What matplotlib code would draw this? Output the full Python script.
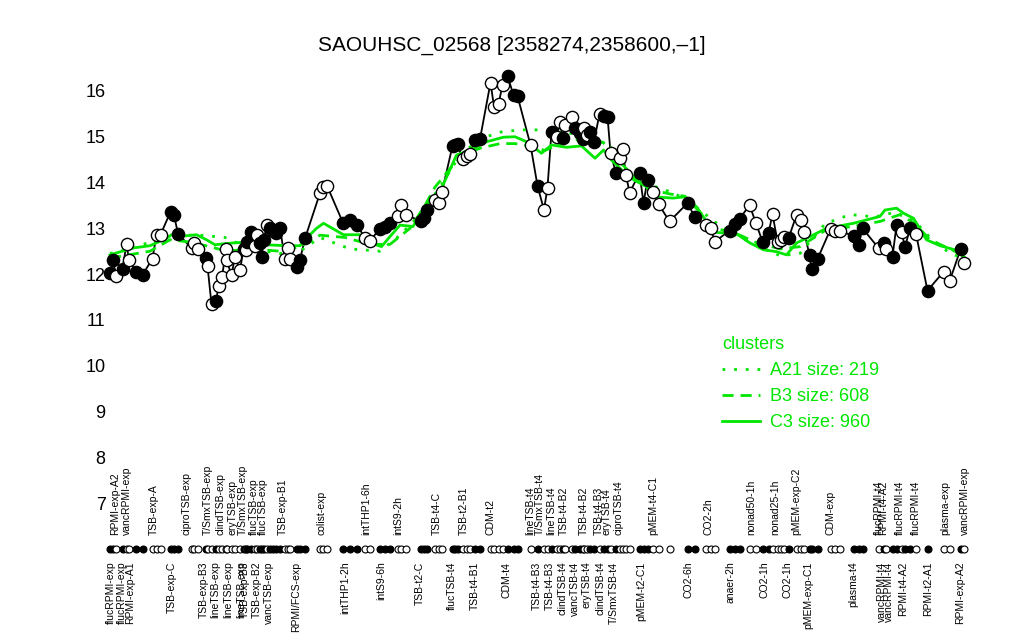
"""SAOUHSC_02568 expression profile with cluster means"""
import matplotlib
matplotlib.use('Agg')
from matplotlib import pyplot as plt
from matplotlib.lines import Line2D

plt.rcParams['font.family'] = ['Liberation Sans', 'DejaVu Sans']

TITLE = 'SAOUHSC_02568 [2358274,2358600,\u20131]'
GREEN = '#00e600'

# sample positions (x slot) and log2 expression, filled = 1 for black dots
pos = [2.0, 2.6, 3.2, 4.5, 5.3, 5.8, 7.2, 8.5,
       10.5, 11.3, 12.1,
       14.1, 14.8, 15.6,
       18.3, 18.8, 19.5,
       21.2, 21.5, 22.3, 23.2, 23.7, 24.4, 25.2, 25.3, 26.3, 27.0, 28.0,
       28.7, 29.1, 29.3, 30.1, 31.0, 31.3, 32.0, 32.3, 32.8, 33.3, 34.0,
       34.6, 35.2, 36.0,
       37.0, 37.5, 37.9,
       39.3, 40.0, 41.0,
       44.0, 44.6, 45.4,
       48.6, 50.0, 51.4,
       53.0, 54.0,
       56.0, 57.0, 58.0,
       59.6, 60.2, 61.2,
       64.2, 64.8, 65.4,
       67.0, 67.8, 68.4,
       70.5, 71.0, 71.5, 72.5, 73.3, 73.9, 75.0, 76.0,
       78.1, 78.8, 79.7, 80.5, 81.5, 82.7, 83.5,
       86.1, 87.5, 88.8, 89.5, 90.3, 91.3, 92.0, 92.5, 93.0, 94.3, 95.0,
       96.0, 96.5, 96.7, 97.3, 98.0, 98.8, 99.9, 100.7, 101.5, 102.1, 103.2,
       104.0, 104.5, 105.2, 105.9,
       107.9, 108.7, 109.5, 110.5, 111.7,
       113.9,
       117.5, 119.0,
       121.2, 122.1, 123.0,
       125.9, 127.0, 127.9,
       129.9, 131.2, 132.5, 133.7, 134.5, 135.5, 136.1, 136.7, 137.7,
       139.3, 140.1, 140.8, 141.9, 142.3, 143.5,
       146.1, 147.0, 147.9,
       150.7, 151.7, 152.5,
       155.7, 156.8, 157.2, 158.5, 159.3, 160.3, 161.0, 162.0, 163.2,
       165.5,
       168.7, 169.9,
       172.1, 172.8]
expr = [12.03, 12.31, 11.96, 12.11, 12.66, 12.31, 12.05, 11.98,
        12.34, 12.86, 12.86,
        13.36, 13.29, 12.88,
        12.57, 12.69, 12.54,
        12.35, 12.18, 11.34, 11.41, 11.73, 11.93, 12.54, 12.31, 11.98, 12.38,
        12.09, 12.54, 12.52, 12.71, 12.91, 12.62, 12.86, 12.69, 12.37, 12.75,
        13.07, 13.00, 12.95, 12.90, 13.00,
        12.32, 12.57, 12.32,
        12.15, 12.31, 12.78,
        13.77, 13.90, 13.93,
        13.12, 13.18, 13.07,
        12.79, 12.73,
        12.99, 13.02, 13.12,
        13.26, 13.51, 13.30,
        13.15, 13.22, 13.39,
        13.62, 13.55, 13.80,
        14.80, 14.83, 14.84, 14.51, 14.57, 14.62, 14.93, 14.95,
        16.18, 15.66, 15.71, 16.13, 16.33, 15.91, 15.89,
        14.82, 13.93, 13.40, 13.89, 15.11, 14.99, 15.33, 14.97, 15.26, 15.43,
        15.19, 15.08, 14.95, 15.19, 15.04, 15.11, 14.89, 15.50, 15.45, 15.44,
        14.65, 14.20, 14.53, 14.73, 14.17, 13.78,
        14.20, 13.56, 14.06, 13.80, 13.53,
        13.15,
        13.55, 13.24,
        13.07, 13.00, 12.71,
        12.95, 13.10, 13.20,
        13.51, 13.11, 12.71, 12.89, 13.31, 12.71, 12.75, 12.81, 12.78,
        13.29, 13.18, 12.93, 12.42, 12.11, 12.33,
        12.98, 12.95, 12.95,
        12.83, 12.64, 13.00,
        12.57, 12.69, 12.54, 12.38, 13.07, 12.93, 12.59, 13.00, 12.88,
        11.64,
        12.05, 11.84,
        12.54, 12.25]
filled = [1, 1, 0, 1, 0, 0, 1, 1,
          0, 0, 0,
          1, 1, 1,
          0, 0, 0,
          1, 0, 0, 1, 0, 0, 0, 0, 0, 0, 0, 1, 0, 1, 1, 0, 0, 1, 1, 1, 0, 1,
          1, 1, 1,
          0, 0, 0,
          1, 1, 1,
          0, 0, 0,
          1, 1, 1,
          0, 0,
          1, 1, 1,
          0, 0, 0,
          1, 1, 1,
          0, 0, 0,
          1, 1, 1, 0, 0, 0, 1, 1,
          0, 0, 0, 0, 1, 1, 1,
          0, 1, 0, 0, 1, 0, 0, 1, 0, 0, 1, 1, 1, 0, 0, 1, 1, 0, 1, 1, 0, 1,
          0, 0, 0, 0,
          1, 1, 1, 0, 0,
          0,
          1, 1,
          0, 0, 0,
          1, 1, 1,
          0, 0, 1, 1, 0, 0, 0, 0, 1,
          0, 0, 0, 1, 1, 1,
          0, 0, 0,
          1, 1, 1,
          0, 1, 0, 1, 1, 0, 1, 1, 0,
          1,
          0, 0,
          1, 0]

# cluster mean profiles
a21_pos = [2.0, 6.0, 10.0, 14.0, 20.0, 25.0, 30.0, 36.0, 40.0, 44.0, 50.0,
           56.0, 60.0, 64.0, 68.0, 72.0, 76.0, 80.0, 84.0, 88.0, 92.0, 96.0,
           100.0, 103.0, 106.0, 110.0, 114.0, 117.0, 120.0, 124.0, 128.0,
           132.0, 136.0, 140.0, 145.0, 150.0, 155.0, 159.0, 163.0, 166.0,
           170.0, 172.8]
a21_val = [12.45, 12.55, 12.70, 12.85, 12.85, 12.80, 12.55, 12.45, 12.50,
           12.80, 12.55, 12.50, 12.85, 13.30, 13.90, 14.60, 14.95, 15.10,
           15.15, 15.15, 15.10, 15.05, 14.95, 14.60, 14.20, 13.95, 13.80,
           13.65, 13.40, 13.05, 12.80, 12.60, 12.40, 12.45, 13.10, 13.30,
           13.25, 13.35, 13.15, 12.80, 12.45, 12.35]
b3_pos = [2.0, 10.0, 14.0, 18.0, 22.0, 25.3, 30.0, 36.0, 40.0, 44.0, 49.0,
          54.0, 58.0, 62.0, 65.0, 67.0, 70.0, 72.5, 76.0, 80.0, 83.0, 86.0,
          89.0, 92.0, 96.0, 100.0, 102.0, 104.0, 107.0, 110.0, 114.0, 117.0,
          120.0, 123.0, 127.0, 131.0, 136.0, 140.0, 145.0, 151.0, 156.0,
          160.0, 163.0, 166.0, 170.0, 172.8]
b3_val = [12.35, 12.50, 12.75, 12.70, 12.60, 12.50, 12.55, 12.50, 12.60,
          12.85, 12.80, 12.65, 12.65, 13.00, 13.50, 13.90, 14.30, 14.60,
          14.75, 14.85, 14.85, 14.80, 14.70, 14.85, 14.95, 14.90, 14.80,
          14.45, 14.10, 13.85, 13.75, 13.70, 13.35, 13.00, 12.90, 12.70,
          12.55, 12.60, 12.95, 13.05, 13.15, 13.30, 13.10, 12.75, 12.55, 12.40]
c3_pos = [2.0, 6.6, 10.0, 13.3, 14.3, 16.6, 19.3, 21.3, 23.0, 25.3, 28.0,
          29.3, 33.3, 37.3, 40.0, 41.0, 43.3, 44.7, 48.7, 52.0, 53.3, 56.3,
          58.0, 60.0, 62.6, 65.2, 68.0, 71.3, 74.0, 77.3, 80.7, 83.0, 85.3,
          88.3, 90.3, 93.3, 96.3, 99.0, 100.7, 102.3, 104.3, 106.7, 109.3,
          110.6, 114.6, 117.0, 119.3, 121.3, 123.3, 127.3, 130.0, 132.7,
          135.3, 137.3, 139.3, 142.0, 145.3, 150.7, 156.0, 157.0, 159.3,
          160.7, 162.7, 165.3, 168.0, 171.0, 172.8]
c3_val = [12.42, 12.57, 12.62, 12.78, 12.86, 12.83, 12.86, 12.75, 12.64,
          12.67, 12.69, 12.60, 12.64, 12.62, 12.62, 12.75, 13.00, 13.11,
          12.86, 12.86, 12.71, 12.60, 12.82, 13.07, 13.04, 13.51, 13.80,
          14.60, 14.71, 14.89, 14.99, 15.00, 14.89, 14.64, 14.82, 14.77,
          14.80, 14.53, 14.71, 14.49, 14.28, 14.06, 13.91, 13.69, 13.66,
          13.69, 13.47, 13.15, 12.91, 12.88, 12.68, 12.53, 12.49, 12.42,
          12.68, 12.82, 13.00, 13.11, 13.26, 13.40, 13.44, 13.33, 13.22,
          12.75, 12.62, 12.53, 12.38]
clusters = ['A21 size: 219', 'B3 size: 608', 'C3 size: 960']

# sample names, alternating above / below the sample strip
top_labels = ['RPMI-exp-A2', 'vancRPMI-exp', 'TSB-exp-A', 'ciproTSB-exp',
              'T/SmxTSB-exp', 'clindTSB-exp', 'eryTSB-exp', 'T/SmxTSB-exp',
              'flucTSB-exp', 'flucTSB-exp', 'TSB-exp-B1', 'colist-exp',
              'intTHP1-6h', 'intS9-2h', 'TSB-t4-C', 'TSB-t2-B1', 'CDM-t2',
              'lineTSB-t4', 'T/SmxTSB-t4', 'lineTSB-t4', 'TSB-t4-B2',
              'TSB-t4-B2', 'TSB-t4-B3', 'eryTSB-t4', 'ciproTSB-t4',
              'pMEM-t4-C1', 'CO2-2h', 'nonad50-1h', 'nonad25-1h',
              'pMEM-exp-C2', 'CDM-exp', 'flucRPMI-t4', 'RPMI-t4-A2',
              'flucRPMI-t4', 'flucRPMI-t4', 'plasma-exp', 'vancRPMI-exp']
top_pos = [3.0, 5.3, 10.8, 17.4, 21.6, 24.1, 26.6, 28.6, 30.8, 32.6, 36.5,
           44.3, 53.2, 59.7, 67.3, 72.7, 78.0, 86.0, 88.0, 90.3, 92.7, 96.7,
           99.7, 101.3, 103.7, 110.7, 121.6, 130.3, 135.0, 139.3, 146.0,
           155.7, 156.7, 160.0, 163.2, 169.0, 173.0]
bottom_labels = ['flucRPMI-exp', 'flucRPMI-exp', 'RPMI-exp-A1', 'TSB-exp-C',
                 'TSB-exp-B3', 'lineTSB-exp', 'lineTSB-exp', 'lineTSB-exp',
                 'TSB-exp-B3', 'TSB-exp-B2', 'vancTSB-exp', 'RPMI/FCS-exp',
                 'intTHP1-2h', 'intS9-6h', 'TSB-t2-C', 'flucTSB-t4',
                 'TSB-t4-B1', 'CDM-t4', 'TSB-t4-B3', 'TSB-t4-B3',
                 'clindTSB-t4', 'vancTSB-t4', 'eryTSB-t4', 'clindTSB-t4',
                 'T/SmxTSB-t4', 'pMEM-t2-C1', 'CO2-6h', 'anaer-2h', 'CO2-1h',
                 'CO2-1h', 'pMEM-exp-C1', 'plasma-t4', 'vancRPMI-t4',
                 'vancRPMI-t4', 'RPMI-t4-A2', 'RPMI-t2-A1', 'RPMI-exp-A2']
bottom_pos = [2.2, 4.3, 6.1, 14.3, 20.8, 23.0, 25.6, 28.2, 29.0, 31.3, 33.7,
              39.3, 49.0, 56.3, 64.0, 70.3, 75.0, 81.3, 87.3, 90.0, 92.5,
              95.0, 97.3, 100.0, 102.7, 108.3, 117.7, 126.0, 132.8, 137.5,
              141.7, 150.7, 156.3, 157.7, 160.7, 165.7, 172.0]


def plot():
    fig = plt.figure(figsize=(10.24, 6.4), dpi=100)
    ax = fig.add_axes([100 / 1024, 0.1997, 875 / 1024, 0.7011])
    ax.set_xlim(0, 175)
    ax.set_ylim(6.8, 16.6)

    # expression profile
    ax.plot(pos, expr, '-', color='black', lw=1.3, zorder=2)
    for x, y, f in zip(pos, expr, filled):
        ax.plot(x, y, 'o', ms=8.8, mec='black', mew=1.0,
                mfc='black' if f else 'white', zorder=4)

    # cluster means
    styles = [(0, (1, 3.2)), (0, (4, 2.5)), '-']
    for (xs, ys), ls in zip([(a21_pos, a21_val), (b3_pos, b3_val),
                             (c3_pos, c3_val)], styles):
        ax.plot(xs, ys, color=GREEN, lw=2.0, ls=ls, zorder=3)

    # sample strip with names
    strip_y = 6.0
    for x, f in zip(pos, filled):
        ax.plot(x, strip_y, 'o', ms=5.0, mec='black', mew=0.8,
                mfc='black' if f else 'white', clip_on=False)
    for name, x in zip(top_labels, top_pos):
        ax.text(x, 6.31, name, rotation=90, ha='center', va='bottom',
                fontsize=7.5, clip_on=False)
    for name, x in zip(bottom_labels, bottom_pos):
        ax.text(x, 5.72, name, rotation=90, ha='center', va='top',
                fontsize=7.5, clip_on=False)

    ax.set_xticks([])
    ax.set_yticks(range(7, 17))
    ax.tick_params(axis='y', length=0, pad=-4, labelsize=13)
    for side in ax.spines.values():
        side.set_visible(False)

    fig.text(0.5, 1 - 45 / 640, TITLE, ha='center', va='center', fontsize=15)

    handles = [Line2D([], [], color=GREEN, lw=2.0, ls=ls) for ls in styles]
    leg = fig.legend(handles, clusters, title='clusters', frameon=False,
                     loc='upper left', bbox_to_anchor=(722 / 1024, 1 - 336 / 640),
                     borderpad=0, borderaxespad=0, handlelength=2.1,
                     handletextpad=0.55, labelspacing=0.5, fontsize=13,
                     title_fontsize=13, labelcolor=GREEN, alignment='left')
    leg.get_title().set_color(GREEN)

    fig.savefig('out.png', dpi=100)


if __name__ == '__main__':
    plot()
